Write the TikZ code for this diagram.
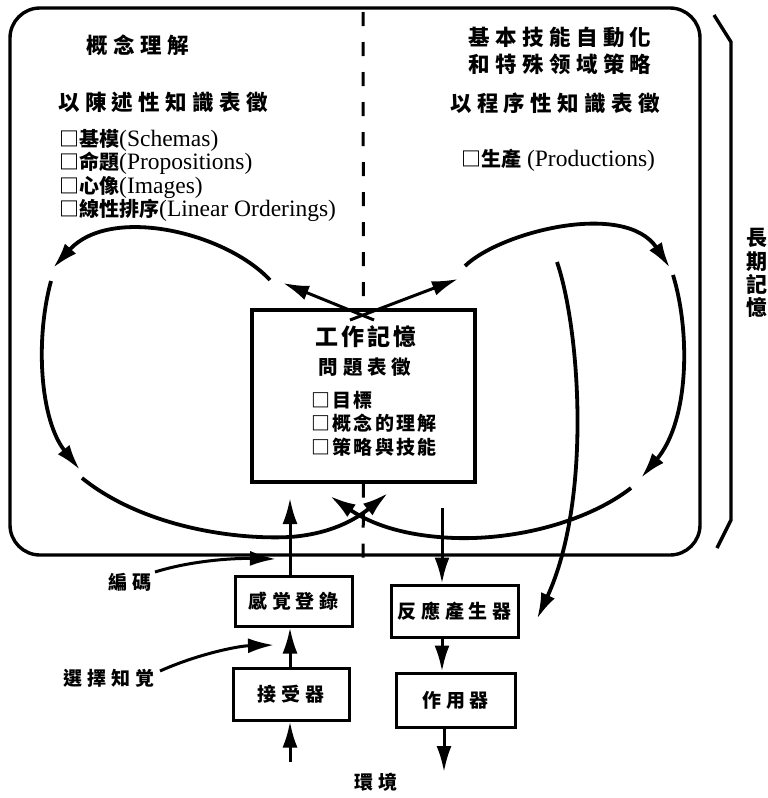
\documentclass[tikz,border=0pt]{standalone}
\usepackage{fontspec}
\setmainfont{Liberation Serif}
\newfontfamily\cjk{Noto Sans CJK TC}
\newfontfamily\cjks{Noto Sans CJK TC}[LetterSpace=25]
\newfontfamily\cjkt{Noto Sans CJK TC}[LetterSpace=12]
\usetikzlibrary{arrows.meta}
\begin{document}
\begin{tikzpicture}[x=1pt,y=-1pt,
  frame/.style={line width=3.4pt, rounded corners=30pt},
  box/.style={draw, line width=3pt, inner sep=0pt, font=\cjks\bfseries\fontsize{19}{19}\selectfont},
  arr/.style={line width=3pt, -{Latex[length=26pt,width=15pt]}},
  flow/.style={line width=3.8pt, -{Latex[length=26pt,width=15pt]}},
  txt/.style={inner sep=0pt},
  big/.style={font=\cjks\bfseries\fontsize{21.5}{21.5}\selectfont},
  item/.style={inner sep=0pt, anchor=west, font=\fontsize{23.5}{23.5}\selectfont},
]
\useasboundingbox (0,0) rectangle (768,798);
% long-term memory frame
\draw[frame] (10,8) rectangle (700,555);
% bracket
\coordinate (b1) at (714,15); \coordinate (b2) at (731,42);
\coordinate (b3) at (731,520); \coordinate (b4) at (717,548);
\draw[line width=3.4pt] (b1) -- (b2) -- (b3) -- (b4);
\node[txt, align=center, font=\cjk\bfseries\fontsize{21}{23.3}\selectfont] (ltm) at (757,273) {長\\期\\記\\憶};

% working memory
\node[draw, line width=3.4pt, minimum width=223pt, minimum height=172pt, inner sep=0pt] (wm) at (363.5,396) {};
\draw[line width=3pt, dash pattern=on 14pt off 16pt] (363,12) -- (wm.north);
\draw[line width=3pt, dash pattern=on 14pt off 16pt] (wm.south) -- (363,565);

\node[txt, font=\cjkt\bfseries\fontsize{23}{23}\selectfont] (wmt) at (366,337) {工作記憶};
\node[txt, font=\cjks\bfseries\fontsize{19.5}{19.5}\selectfont] (wmp) at (365,367) {問題表徵};
\node[item, font=\cjkt\bfseries\fontsize{19}{19}\selectfont] (g1) at (311,400) {□目標};
\node[item, font=\cjkt\bfseries\fontsize{19}{19}\selectfont] (g2) at (311,423) {□概念的理解};
\node[item, font=\cjkt\bfseries\fontsize{19}{19}\selectfont] (g3) at (311,447) {□策略與技能};

% left texts
\node[txt, big] (lt1) at (138,45) {概念理解};
\node[txt, anchor=west, big] (lt2) at (58,102) {以陳述性知識表徵};
\node[item] (s1) at (59,140) {{\cjk\bfseries\fontsize{20}{20}\selectfont □基模}(Schemas)};
\node[item] (s2) at (59,163) {{\cjk\bfseries\fontsize{20}{20}\selectfont □命題}(Propositions)};
\node[item] (s3) at (59,187) {{\cjk\bfseries\fontsize{20}{20}\selectfont □心像}(Images)};
\node[item] (s4) at (59,210) {{\cjk\bfseries\fontsize{20}{20}\selectfont □線性排序}(Linear Orderings)};

% right texts
\node[txt, big] (rt1) at (560,37) {基本技能自動化};
\node[txt, big] (rt2) at (560,64) {和特殊领域策略};
\node[txt, big] (rt3) at (555,103) {以程序性知識表徵};
\node[item] (p1) at (461,160) {{\cjk\bfseries\fontsize{20}{20}\selectfont □生產} (Productions)};

% lower boxes
\node[box, minimum width=117pt, minimum height=50pt] (sens) at (293.5,601) {感覚登錄};
\node[box, minimum width=116pt, minimum height=52pt] (recv) at (291,694) {接受器};
\node[box, minimum width=127pt, minimum height=52pt] (resp) at (454.5,611) {反應產生器};
\node[box, minimum width=119pt, minimum height=54pt] (eff) at (455.5,700) {作用器};

\node[txt, font=\cjks\bfseries\fontsize{19}{19}\selectfont] (enc) at (130,582) {編碼};
\node[txt, font=\cjks\bfseries\fontsize{19}{19}\selectfont] (sel) at (109,678) {選擇知覚};
\node[txt, font=\cjks\bfseries\fontsize{19}{19}\selectfont] (env) at (376,782) {環境};

% vertical arrows
\coordinate (envin) at (290,762);
\coordinate (wmin) at (290,498);
\coordinate (wmout) at (442,508);
\coordinate (effout) at (444,772);
\draw[arr] (envin) -- (envin |- recv.south);
\draw[arr] (envin |- recv.north) -- (envin |- sens.south);
\draw[arr] (wmin |- sens.north) -- (wmin);
\draw[arr] (wmout) -- (wmout |- resp.north);
\draw[arr] (wmout |- resp.south) -- (wmout |- eff.north);
\draw[arr] (effout |- eff.south) -- (effout);

% side arrows
\coordinate (encs) at (155,572); \coordinate (ence) at (276,559);
\draw[arr] (encs) .. controls (190,561) and (232,558) .. (ence);
\coordinate (sels) at (160,671); \coordinate (sele) at (274,645);
\draw[arr] (sels) .. controls (198,654) and (238,646) .. (sele);

% crossing arrows at top of working memory
\coordinate (xa) at (374,320); \coordinate (xat) at (283,283);
\coordinate (xb) at (350,320); \coordinate (xbt) at (458,279);
\draw[arr] (xa) -- (xat);
\draw[arr] (xb) -- (xbt);

% left loop
\coordinate (l1s) at (270,280); \coordinate (l1e) at (53,268);
\draw[flow] (l1s) .. controls (225,232) and (110,205) .. (l1e);
\coordinate (l2s) at (51,281); \coordinate (l2e) at (80,470);
\draw[flow] (l2s) .. controls (35,340) and (40,420) .. (l2e);
\coordinate (l3s) at (82,478); \coordinate (l3m) at (290,537); \coordinate (l3e) at (388,493);
\draw[flow] (l3s) .. controls (140,525) and (230,540) .. (l3m) .. controls (330,534) and (355,520) .. (l3e);

% right loop
\coordinate (r1s) at (465,266); \coordinate (r1e) at (670,268);
\draw[flow] (r1s) .. controls (500,232) and (625,200) .. (r1e);
\coordinate (r2s) at (673,275); \coordinate (r2e) at (641,478);
\draw[flow] (r2s) .. controls (690,330) and (690,420) .. (r2e);
\coordinate (r3s) at (631,488); \coordinate (r3m) at (455,538); \coordinate (r3e) at (330,496);
\draw[flow] (r3s) .. controls (590,520) and (520,540) .. (r3m) .. controls (400,536) and (368,522) .. (r3e);

% long line to response generator
\coordinate (ls) at (557,262); \coordinate (le) at (537,619);
\draw[flow] (ls) .. controls (580,330) and (592,500) .. (le);
\end{tikzpicture}
\end{document}
